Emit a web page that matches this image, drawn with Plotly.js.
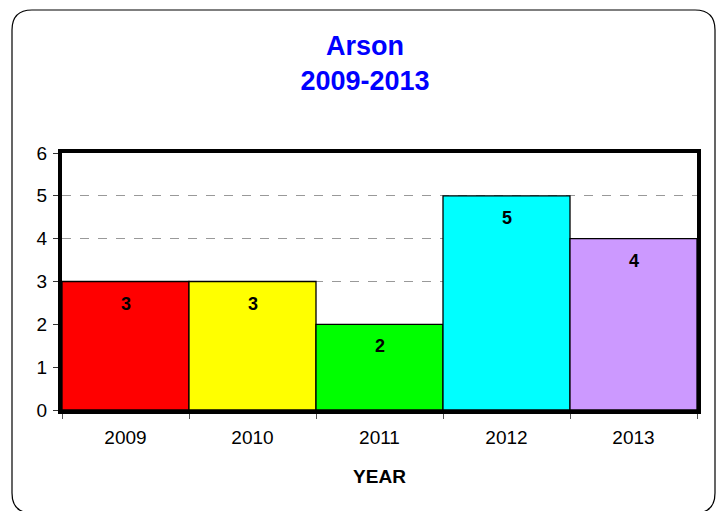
<!DOCTYPE html>
<html>
<head>
<meta charset="utf-8">
<script src="https://cdn.plot.ly/plotly-3.0.1.min.js"></script>
<style>
  html, body { margin: 0; padding: 0; background: #fff; }
  #chart { width: 717px; height: 511px; }
</style>
</head>
<body>
<div id="chart"></div>
<script>
// ---- data ----
const years = ["2009", "2010", "2011", "2012", "2013"];
const counts = [3, 3, 2, 5, 4];
const barColors = ["#FF0000", "#FFFF00", "#00FF00", "#00FFFF", "#CC99FF"];
const yTicks = [0, 1, 2, 3, 4, 5, 6];

// ---- layout geometry ----
const W = 717, H = 511;
const M = { l: 62, r: 20, t: 153, b: 101 };
const pw = W - M.l - M.r, ph = H - M.t - M.b;
const px = x => (x - M.l) / pw;
const py = y => (H - M.b - y) / ph;

// rounded outer frame (in paper coords)
const fl = 12, fr = 715, ft = 10, fb = 513, rad = 20;
const framePath =
  `M ${px(fl + rad)},${py(ft)} L ${px(fr - rad)},${py(ft)} ` +
  `Q ${px(fr)},${py(ft)} ${px(fr)},${py(ft + rad)} ` +
  `L ${px(fr)},${py(fb - rad)} Q ${px(fr)},${py(fb)} ${px(fr - rad)},${py(fb)} ` +
  `L ${px(fl + rad)},${py(fb)} Q ${px(fl)},${py(fb)} ${px(fl)},${py(fb - rad)} ` +
  `L ${px(fl)},${py(ft + rad)} Q ${px(fl)},${py(ft)} ${px(fl + rad)},${py(ft)} Z`;

const font = "Liberation Sans, Arial, sans-serif";

const trace = {
  type: "bar",
  x: years,
  y: counts,
  marker: { color: barColors, line: { color: "#000", width: 1.3 } },
  hoverinfo: "x+y"
};

// value labels: category index on the category axis, value on y
const annotations = years.map((yr, i) => ({
  x: i, y: counts[i], xref: "x", yref: "y",
  text: "<b>" + counts[i] + "</b>",
  showarrow: false, yanchor: "middle", yshift: -22,
  font: { family: font, size: 18, color: "#000" }
}));

const layout = {
  width: W, height: H,
  margin: M,
  paper_bgcolor: "#fff",
  plot_bgcolor: "#fff",
  showlegend: false,
  bargap: 0,
  title: {
    text: "<b>Arson<br>2009-2013</b>",
    font: { family: font, size: 27, color: "#0000FF" },
    x: 365 / W, xref: "container", xanchor: "center",
    y: 1 - 55 / H, yref: "container", yanchor: "middle"
  },
  xaxis: {
    type: "category",
    range: [-0.5, 4.5],
    showline: true, linecolor: "#000", linewidth: 4, mirror: true,
    ticks: "outside", tickson: "boundaries", ticklen: 5, tickwidth: 1, tickcolor: "#555",
    ticklabelstandoff: 7,
    tickfont: { family: font, size: 19, color: "#000" },
    showgrid: false, zeroline: false,
    title: { text: "<b>YEAR</b>", font: { family: font, size: 19, color: "#000" }, standoff: 24 }
  },
  yaxis: {
    range: [0, 6],
    tickvals: yTicks,
    showline: true, linecolor: "#000", linewidth: 4, mirror: true,
    ticks: "outside", ticklen: 5, tickwidth: 1, tickcolor: "#333",
    ticklabelstandoff: 2,
    tickfont: { family: font, size: 19, color: "#000" },
    showgrid: true, gridcolor: "#999", griddash: "dash", gridwidth: 1,
    zeroline: false
  },
  shapes: [{
    type: "path", xref: "paper", yref: "paper", layer: "below",
    path: framePath, line: { color: "#000", width: 1.2 }, fillcolor: "rgba(0,0,0,0)"
  }],
  annotations: annotations
};

Plotly.newPlot("chart", [trace], layout, { displayModeBar: false, staticPlot: true });
</script>
</body>
</html>
